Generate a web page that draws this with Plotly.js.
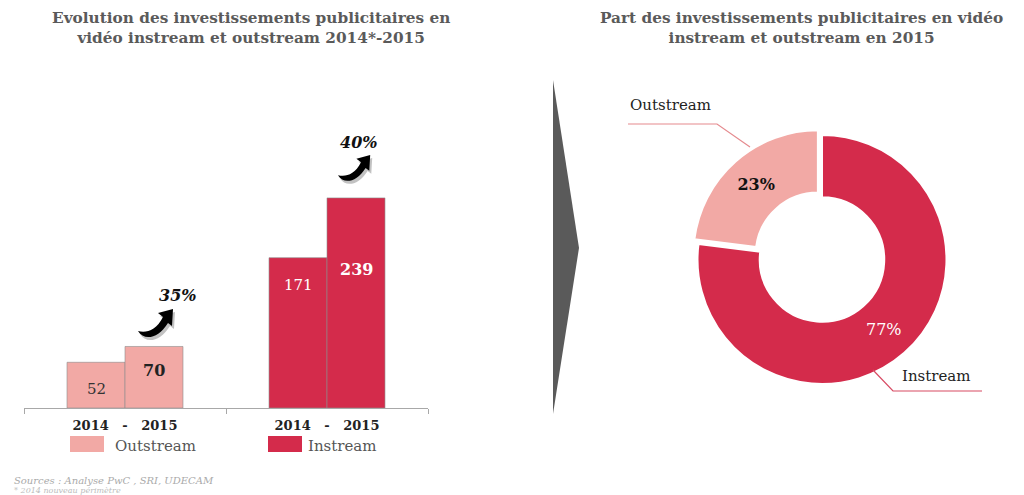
<!DOCTYPE html>
<html><head><meta charset="utf-8">
<script src="https://cdn.plot.ly/plotly-3.0.1.min.js"></script>
<style>html,body{margin:0;padding:0;background:#fff}#chart{width:1024px;height:495px}</style>
</head><body><div id="chart"></div>
<script>
// ---- data ----
const categories = ["Outstream", "Instream"];
const years = ["2014", "2015"];
const values2014 = [52, 171];
const values2015 = [70, 239];
const shareLabels = ["Instream", "Outstream"];
const shareValues = [77, 23];
const tickText = "2014   -   2015";
const leftTitle = "Evolution des investissements publicitaires en<br>vidéo instream et outstream 2014*-2015";
const rightTitle = "Part des investissements publicitaires en vidéo<br>instream et outstream en 2015";
const sourceText = "Sources : Analyse PwC , SRI, UDECAM";
const noteText = "* 2014 nouveau périmètre";

// ---- style ----
const PINK = "#f2a9a5", RED = "#d42b4b";
const catColors = [PINK, RED];
const SERIF = "DejaVu Serif, Liberation Serif, serif";
const W = 1024, H = 495;
const px = x => x / W, py = y => 1 - y / H;
// label offsets (pixels below bar top) for value labels: [2014 bars], [2015 bars]
const labelDrop2014 = [27, 27];
const labelDrop2015 = [24, 72];
const groupShift = 29;

function pathFromPx(pts, ox, oy, s) {
  return pts.map(c => {
    if (c[0] === 'Z') return 'Z';
    let out = c[0];
    for (let i = 1; i < c.length; i += 2) {
      out += ' ' + px(ox + c[i] * s).toFixed(5) + ',' + py(oy + c[i + 1] * s).toFixed(5);
    }
    return out;
  }).join(' ');
}
const arrowCmds = [
  ['M', 0, 22], ['C', 6, 32, 20, 30, 30, 14], ['L', 34, 17], ['L', 35, 0],
  ['L', 20, 4], ['L', 25, 8], ['C', 18, 22, 8, 24, 0, 22], ['Z']
];

const pct = categories.map((c, i) => Math.round((values2015[i] - values2014[i]) / values2014[i] * 100) + "%");

const traces = [
  {
    type: 'bar', name: years[0], x: categories, y: values2014,
    marker: { color: catColors, line: { color: "rgba(140,140,140,0.6)", width: 1 } },
    xaxis: 'x', yaxis: 'y', showlegend: false, hoverinfo: 'x+y'
  },
  {
    type: 'bar', name: years[1], x: categories, y: values2015,
    marker: { color: catColors, line: { color: "rgba(140,140,140,0.6)", width: 1 } },
    xaxis: 'x', yaxis: 'y', showlegend: false, hoverinfo: 'x+y'
  },
  {
    type: 'pie', labels: shareLabels, values: shareValues, hole: 0.5,
    pull: [0, 0.05], sort: false, direction: 'clockwise', rotation: 0,
    marker: { colors: [RED, PINK], line: { color: '#ffffff', width: 2 } },
    texttemplate: ["%{value}%", "<b>%{value}%</b>"], textposition: 'inside',
    insidetextorientation: 'horizontal',
    textfont: { family: SERIF, size: 16, color: ["#ffffff", "#111111"] },
    domain: { x: [px(691.3), px(952.7)], y: [py(390.2), py(128.8)] },
    showlegend: false
  }
];

const shapes = [
  { type: 'path', xref: 'paper', yref: 'paper', path: `M ${px(553)},${py(80)} L ${px(579)},${py(248)} L ${px(553)},${py(414)} Z`, fillcolor: '#5a5a5a', line: { width: 0 } },
  { type: 'path', xref: 'paper', yref: 'paper', path: pathFromPx(arrowCmds, 140, 312, 1), fillcolor: 'rgba(120,120,120,0.45)', line: { width: 0 } },
  { type: 'path', xref: 'paper', yref: 'paper', path: pathFromPx(arrowCmds, 138, 309, 1), fillcolor: '#000', line: { width: 0 } },
  { type: 'path', xref: 'paper', yref: 'paper', path: pathFromPx(arrowCmds, 340, 158, 0.92), fillcolor: 'rgba(120,120,120,0.45)', line: { width: 0 } },
  { type: 'path', xref: 'paper', yref: 'paper', path: pathFromPx(arrowCmds, 338, 155, 0.92), fillcolor: '#000', line: { width: 0 } },
  { type: 'rect', xref: 'paper', yref: 'paper', x0: px(70), x1: px(104), y0: py(452), y1: py(436), fillcolor: PINK, line: { width: 0 } },
  { type: 'rect', xref: 'paper', yref: 'paper', x0: px(268), x1: px(302), y0: py(452), y1: py(436), fillcolor: RED, line: { width: 0 } },
  { type: 'path', xref: 'paper', yref: 'paper', path: `M ${px(628)},${py(124)} L ${px(717)},${py(124)} L ${px(750)},${py(147)}`, line: { color: '#e58a8e', width: 1.2 } },
  { type: 'path', xref: 'paper', yref: 'paper', path: `M ${px(873)},${py(370)} L ${px(893)},${py(391)} L ${px(982)},${py(391)}`, line: { color: '#d84a63', width: 1.2 } }
];

const ann = (text, x, y, opts) => Object.assign({
  text, xref: 'paper', yref: 'paper', x: px(x), y: py(y), showarrow: false,
  xanchor: 'center', yanchor: 'middle', font: { family: SERIF, size: 15, color: '#555' }
}, opts || {});

const annotations = [
  ann("<b>" + leftTitle + "</b>", 251, 28, { font: { family: SERIF, size: 15.3, color: '#5a5a5a' } }),
  ann("<b>" + rightTitle + "</b>", 801, 28, { font: { family: SERIF, size: 15.3, color: '#5a5a5a' } }),
  ann("<b><i>" + pct[0] + "</i></b>", 177, 295, { font: { family: SERIF, size: 16, color: '#111' } }),
  ann("<b><i>" + pct[1] + "</i></b>", 358, 142, { font: { family: SERIF, size: 16, color: '#111' } }),
  ann(categories[0], 113, 446, { xanchor: 'left', font: { family: SERIF, size: 15, color: '#555' } }),
  ann(categories[1], 306, 446, { xanchor: 'left', font: { family: SERIF, size: 15, color: '#555' } }),
  ann(shareLabels[1], 670, 105, { font: { family: SERIF, size: 15, color: '#222' } }),
  ann(shareLabels[0], 936, 376, { font: { family: SERIF, size: 15, color: '#222' } }),
  ann("<i>" + sourceText + "</i>", 12, 480, { xanchor: 'left', font: { family: SERIF, size: 10, color: '#aaaaaa' } }),
  ann("<i>" + noteText + "</i>", 12, 490, { xanchor: 'left', font: { family: SERIF, size: 8, color: '#bbbbbb' } })
];

// value labels inside bars, anchored at each bar's value
categories.forEach((c, i) => {
  annotations.push({
    xref: 'x', yref: 'y', x: c, y: values2014[i], xshift: -groupShift, yshift: -labelDrop2014[i],
    text: String(values2014[i]), showarrow: false, yanchor: 'middle',
    font: { family: SERIF, size: 15, color: i === 0 ? '#333' : '#fff' }
  });
  annotations.push({
    xref: 'x', yref: 'y', x: c, y: values2015[i], xshift: groupShift, yshift: -labelDrop2015[i],
    text: "<b>" + values2015[i] + "</b>", showarrow: false, yanchor: 'middle',
    font: { family: SERIF, size: 16, color: i === 0 ? '#222' : '#fff' }
  });
});

const layout = {
  width: W, height: H,
  margin: { l: 0, r: 0, t: 0, b: 0 },
  paper_bgcolor: '#fff', plot_bgcolor: 'rgba(0,0,0,0)',
  barmode: 'group', bargap: 0.426, bargroupgap: 0,
  xaxis: {
    domain: [px(24), px(428)], type: 'category', showline: true, linecolor: '#a8a8a8', linewidth: 1,
    ticks: 'outside', tickson: 'boundaries', ticklen: 5, tickcolor: '#a8a8a8',
    tickvals: categories, ticktext: categories.map(() => "<b>" + tickText + "</b>"),
    tickfont: { family: SERIF, size: 13, color: '#222' }, ticklabelstandoff: 5,
    showgrid: false, zeroline: false, fixedrange: true
  },
  yaxis: {
    domain: [py(408), py(144.3)], range: [0, 300], visible: false, showgrid: false, zeroline: false
  },
  shapes, annotations,
  font: { family: SERIF }
};

Plotly.newPlot('chart', traces, layout, { displayModeBar: false, staticPlot: true });
</script></body></html>
